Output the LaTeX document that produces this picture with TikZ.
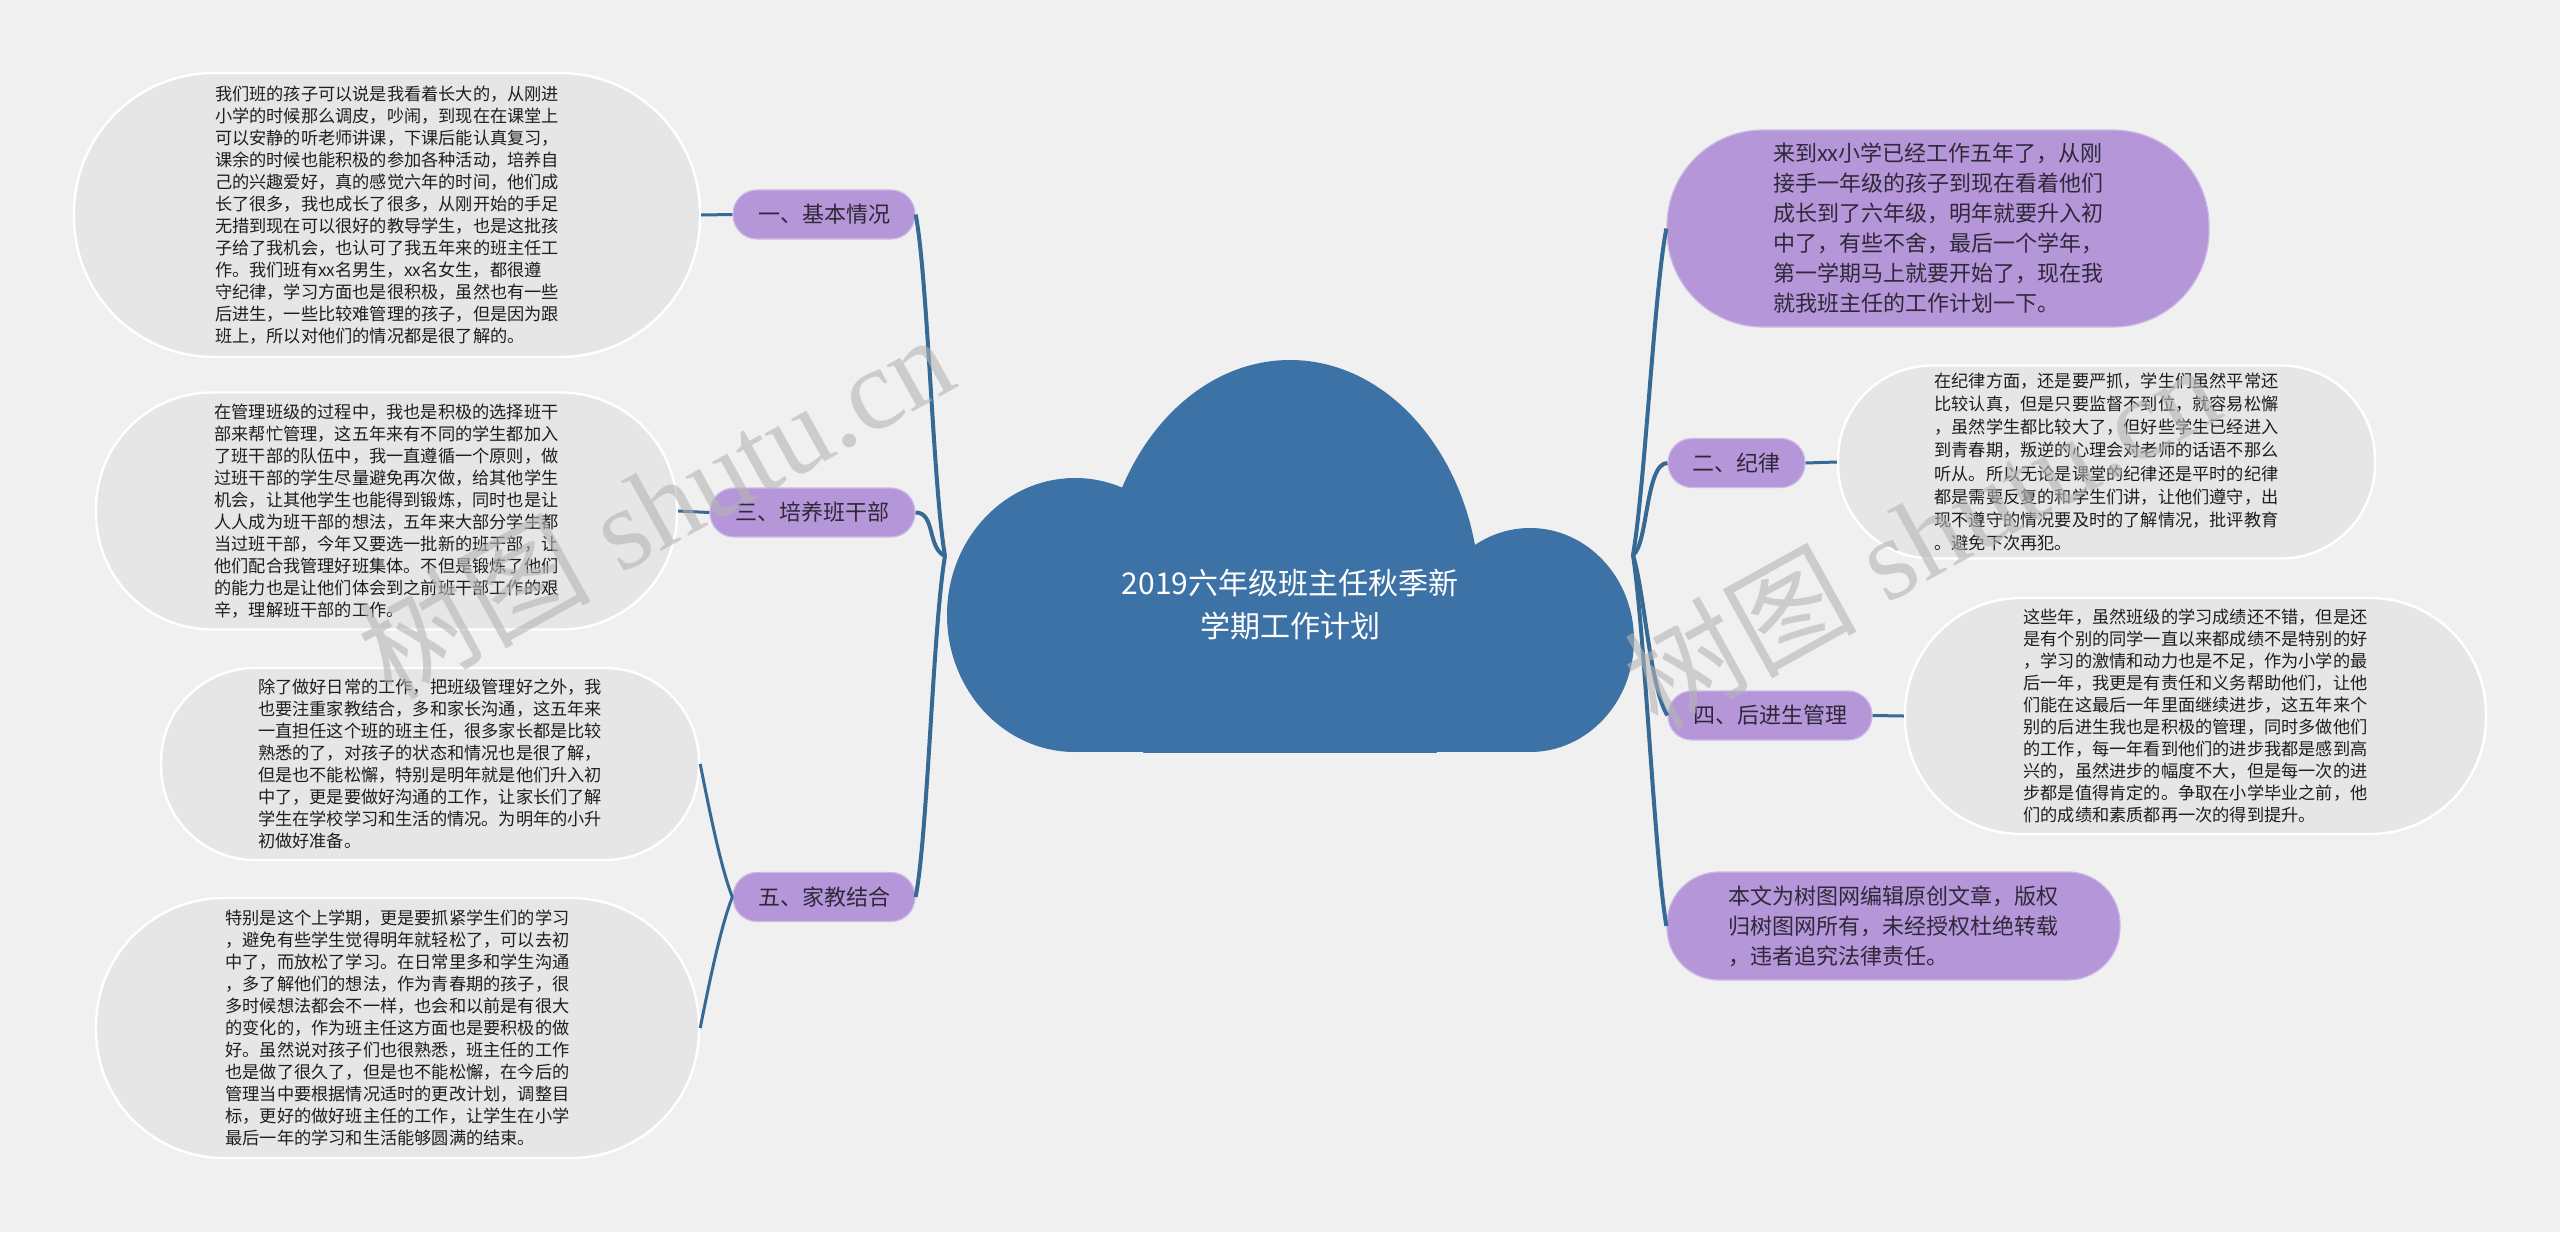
\documentclass[tikz,border=0pt]{standalone}
\usepackage{fontspec}
\newfontfamily\cjk{Noto Sans CJK SC}
\newfontfamily\wmfont{Liberation Serif}
\definecolor{bgc}{HTML}{F0F0F0}
\definecolor{bubc}{HTML}{E6E6E6}
\definecolor{purc}{HTML}{B596D8}
\definecolor{purline}{HTML}{CDB9E6}
\definecolor{cloudc}{HTML}{3D72A6}
\definecolor{connc}{HTML}{376995}
\definecolor{txtc}{HTML}{1E1E1E}
\definecolor{labtxt}{HTML}{2F2838}
\definecolor{wmc}{HTML}{B4B4B4}
\tikzset{
  graybub/.style={draw=white, line width=1.2pt, fill=bubc, align=left, text=txtc, inner sep=0pt,
    font=\cjk\fontsize{8.6pt}{11pt}\selectfont},
  purbub/.style={draw=purline, line width=0.6pt, fill=purc, align=left, text=labtxt, inner sep=0pt,
    font=\cjk\fontsize{11pt}{15pt}\selectfont},
  labelnode/.style={draw=purline, line width=0.6pt, fill=purc, text=labtxt, inner sep=0pt,
    font=\cjk\fontsize{11pt}{13pt}\selectfont, minimum height=24.5pt, rounded corners=12pt},
  mainconn/.style={draw=connc, line width=2pt},
  leafconn/.style={draw=connc, line width=1.5pt},
  watermark/.style={text=wmc, opacity=0.6, inner sep=0pt, rotate=29,
    font=\wmfont\fontsize{58pt}{60pt}\selectfont}
}
\begin{document}
\begin{tikzpicture}[x=0.5pt,y=-0.5pt]
\useasboundingbox (0,0) rectangle (2560,1232);
\fill[bgc] (0,0) rectangle (2560,1232);

% cloud
\begin{scope}
\clip (0,0) rectangle (2560,752);
\fill[cloudc] (1075,615) ellipse [x radius=128, y radius=137];
\fill[cloudc] (1290,600) ellipse [x radius=190, y radius=240];
\fill[cloudc] (1530,640) ellipse [x radius=104, y radius=112];
\fill[cloudc] (1075,615) rectangle (1530,752);
\end{scope}
\node[text=white, align=center, inner sep=0pt, font=\cjk\fontsize{15pt}{21.5pt}\selectfont] (root) at (1290,605) {2019六年级班主任秋季新\\学期工作计划};
\coordinate (hubL) at (945,556);
\coordinate (hubR) at (1633,555);

% left label nodes
\node[labelnode, minimum width=91pt] (n1) at (824,214.5) {一、基本情况};
\node[labelnode, minimum width=102.5pt] (n2) at (812.5,512.5) {三、培养班干部};
\node[labelnode, minimum width=91pt] (n3) at (824,897) {五、家教结合};

% right label nodes
\node[labelnode, minimum width=68.5pt] (f) at (1736.5,463) {二、纪律};
\node[labelnode, minimum width=102pt] (g) at (1770,715.5) {四、后进生管理};

% left gray bubbles
\node[graybub, minimum width=313pt, minimum height=142pt, rounded corners=70pt] (a) at (387,215) {我们班的孩子可以说是我看着长大的，从刚进\\小学的时候那么调皮，吵闹，到现在在课堂上\\可以安静的听老师讲课，下课后能认真复习，\\课余的时候也能积极的参加各种活动，培养自\\己的兴趣爱好，真的感觉六年的时间，他们成\\长了很多，我也成长了很多，从刚开始的手足\\无措到现在可以很好的教导学生，也是这批孩\\子给了我机会，也认可了我五年来的班主任工\\作。我们班有xx名男生，xx名女生，都很遵\\守纪律，学习方面也是很积极，虽然也有一些\\后进生，一些比较难管理的孩子，但是因为跟\\班上，所以对他们的情况都是很了解的。};
\node[graybub, minimum width=290.5pt, minimum height=118.5pt, rounded corners=58pt] (b) at (386.5,511) {在管理班级的过程中，我也是积极的选择班干\\部来帮忙管理，这五年来有不同的学生都加入\\了班干部的队伍中，我一直遵循一个原则，做\\过班干部的学生尽量避免再次做，给其他学生\\机会，让其他学生也能得到锻炼，同时也是让\\人人成为班干部的想法，五年来大部分学生都\\当过班干部，今年又要选一批新的班干部，让\\他们配合我管理好班集体。不但是锻炼了他们\\的能力也是让他们体会到之前班干部工作的艰\\辛，理解班干部的工作。};
\node[graybub, minimum width=269pt, minimum height=96pt, rounded corners=47pt] (c) at (430,764) {除了做好日常的工作，把班级管理好之外，我\\也要注重家教结合，多和家长沟通，这五年来\\一直担任这个班的班主任，很多家长都是比较\\熟悉的了，对孩子的状态和情况也是很了解，\\但是也不能松懈，特别是明年就是他们升入初\\中了，更是要做好沟通的工作，让家长们了解\\学生在学校学习和生活的情况。为明年的小升\\初做好准备。};
\node[graybub, minimum width=301.5pt, minimum height=130pt, rounded corners=64pt] (d) at (397.5,1028) {特别是这个上学期，更是要抓紧学生们的学习\\，避免有些学生觉得明年就轻松了，可以去初\\中了，而放松了学习。在日常里多和学生沟通\\，多了解他们的想法，作为青春期的孩子，很\\多时候想法都会不一样，也会和以前是有很大\\的变化的，作为班主任这方面也是要积极的做\\好。虽然说对孩子们也很熟悉，班主任的工作\\也是做了很久了，但是也不能松懈，在今后的\\管理当中要根据情况适时的更改计划，调整目\\标，更好的做好班主任的工作，让学生在小学\\最后一年的学习和生活能够圆满的结束。};

% right bubbles
\node[purbub, minimum width=271pt, minimum height=98.5pt, rounded corners=48pt] (e) at (1938,228.5) {来到xx小学已经工作五年了，从刚\\接手一年级的孩子到现在看着他们\\成长到了六年级，明年就要升入初\\中了，有些不舍，最后一个学年，\\第一学期马上就要开始了，现在我\\就我班主任的工作计划一下。};
\node[graybub, minimum width=268.5pt, minimum height=96.5pt, rounded corners=47pt, font=\cjk\fontsize{8.6pt}{11.6pt}\selectfont] (i) at (2106.5,462) {在纪律方面，还是要严抓，学生们虽然平常还\\比较认真，但是只要监督不到位，就容易松懈\\，虽然学生都比较大了，但好些学生已经进入\\到青春期，叛逆的心理会对老师的话语不那么\\听从。所以无论是课堂的纪律还是平时的纪律\\都是需要反复的和学生们讲，让他们遵守，出\\现不遵守的情况要及时的了解情况，批评教育\\。避免下次再犯。};
\node[graybub, minimum width=290.5pt, minimum height=118pt, rounded corners=58pt] (j) at (2195.5,716) {这些年，虽然班级的学习成绩还不错，但是还\\是有个别的同学一直以来都成绩不是特别的好\\，学习的激情和动力也是不足，作为小学的最\\后一年，我更是有责任和义务帮助他们，让他\\们能在这最后一年里面继续进步，这五年来个\\别的后进生我也是积极的管理，同时多做他们\\的工作，每一年看到他们的进步我都是感到高\\兴的，虽然进步的幅度不大，但是每一次的进\\步都是值得肯定的。争取在小学毕业之前，他\\们的成绩和素质都再一次的得到提升。};
\node[purbub, minimum width=226.5pt, minimum height=54pt, rounded corners=26pt] (h) at (1893.5,926) {本文为树图网编辑原创文章，版权\\归树图网所有，未经授权杜绝转载\\，违者追究法律责任。};

% main connectors
\draw[mainconn] (hubL) .. controls +(-12,-70) and +(12,60) .. (n1.east);
\draw[mainconn] (hubL) .. controls +(-18,-8) and +(20,0) .. (n2.east);
\draw[mainconn] (hubL) .. controls +(-12,70) and +(12,-60) .. (n3.east);
\draw[mainconn] (hubR) .. controls +(12,-70) and +(-12,60) .. (e.west);
\draw[mainconn] (hubR) .. controls +(15,-10) and +(-22,0) .. (f.west);
\draw[mainconn] (hubR) .. controls +(12,40) and +(-18,-30) .. (g.west);
\draw[mainconn] (hubR) .. controls +(12,80) and +(-12,-70) .. (h.west);

% leaf connectors
\draw[leafconn] (a.east) -- (n1.west);
\draw[leafconn] (b.east) -- (n2.west);
\draw[leafconn] (n3.west) .. controls +(-12,-30) and +(8,40) .. (c.east);
\draw[leafconn] (n3.west) .. controls +(-12,30) and +(8,-40) .. (d.east);
\draw[leafconn] (f.east) -- (i.west);
\draw[leafconn] (g.east) -- (j.west);

% watermarks
\node[watermark] (wm1) at (655,505) {{\cjk 树图} shutu.cn};
\node[watermark] (wm2) at (1921,535) {{\cjk 树图} shutu.cn};
\end{tikzpicture}
\end{document}
